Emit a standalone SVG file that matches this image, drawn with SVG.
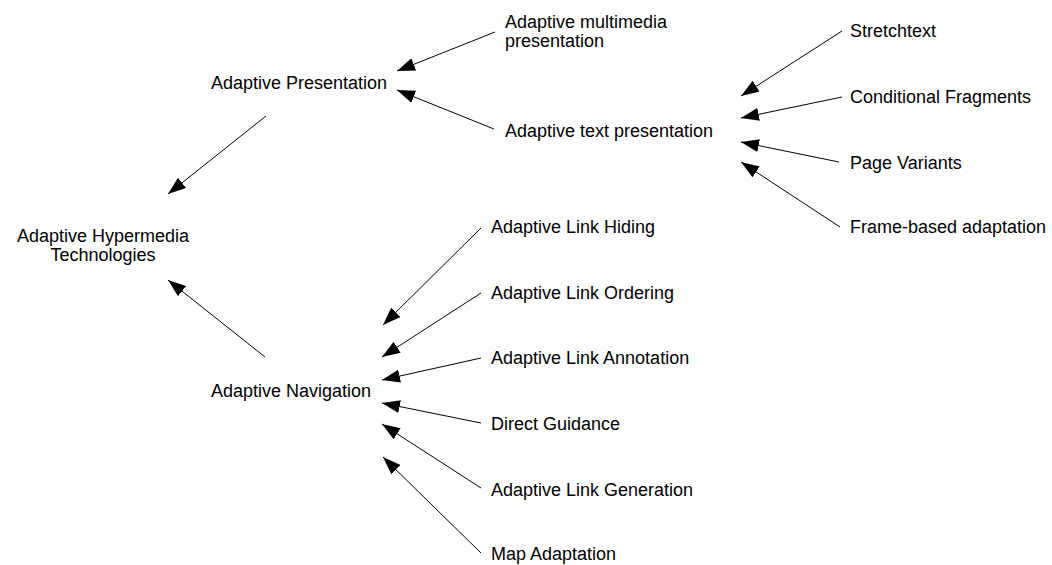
<svg xmlns="http://www.w3.org/2000/svg" width="1052" height="565" viewBox="0 0 1052 565">
<style>
text { font-family: "Liberation Sans", Arial, sans-serif; font-size: 18px; fill: #000; }
.c line { stroke: #000; stroke-width: 1; marker-end: url(#ah); }
</style>
<defs>
<marker id="ah" markerUnits="userSpaceOnUse" markerWidth="18" markerHeight="13" refX="18" refY="6.5" orient="auto">
<path d="M0,0 L18,6.5 L0,13 Z" fill="#000"/>
</marker>
</defs>
<rect width="1052" height="565" fill="#fff"/>
<g class="c" id="connectors">
<line x1="266" y1="116" x2="168" y2="194"/>
<line x1="265" y1="357" x2="168" y2="280"/>
<line x1="495" y1="32" x2="397" y2="71"/>
<line x1="494" y1="129" x2="397" y2="90"/>
<line x1="842" y1="31" x2="741" y2="96"/>
<line x1="842" y1="97" x2="741" y2="118"/>
<line x1="839" y1="162" x2="741" y2="142"/>
<line x1="840" y1="227" x2="741" y2="162"/>
<line x1="481" y1="228" x2="383" y2="325"/>
<line x1="481" y1="293" x2="382" y2="357"/>
<line x1="481" y1="358" x2="382" y2="380"/>
<line x1="481" y1="423" x2="382" y2="403"/>
<line x1="481" y1="488" x2="382" y2="424"/>
<line x1="481" y1="553" x2="383" y2="457"/>
</g>
<g id="n-root"><text x="103" y="242" text-anchor="middle">Adaptive Hypermedia</text><text x="103" y="261" text-anchor="middle">Technologies</text></g>
<g id="n-pres"><text x="211" y="89">Adaptive Presentation</text></g>
<g id="n-nav"><text x="211" y="397">Adaptive Navigation</text></g>
<g id="n-multi"><text x="505" y="28">Adaptive multimedia</text><text x="505" y="47">presentation</text></g>
<g id="n-textpres"><text x="505" y="137">Adaptive text presentation</text></g>
<g id="n-stretch"><text x="850" y="37">Stretchtext</text></g>
<g id="n-cond"><text x="850" y="103">Conditional Fragments</text></g>
<g id="n-page"><text x="850" y="169">Page Variants</text></g>
<g id="n-frame"><text x="850" y="233">Frame-based adaptation</text></g>
<g id="n-hiding"><text x="491" y="233">Adaptive Link Hiding</text></g>
<g id="n-ordering"><text x="491" y="299">Adaptive Link Ordering</text></g>
<g id="n-annot"><text x="491" y="364">Adaptive Link Annotation</text></g>
<g id="n-direct"><text x="491" y="430">Direct Guidance</text></g>
<g id="n-gen"><text x="491" y="496">Adaptive Link Generation</text></g>
<g id="n-map"><text x="491" y="560">Map Adaptation</text></g>
</svg>
